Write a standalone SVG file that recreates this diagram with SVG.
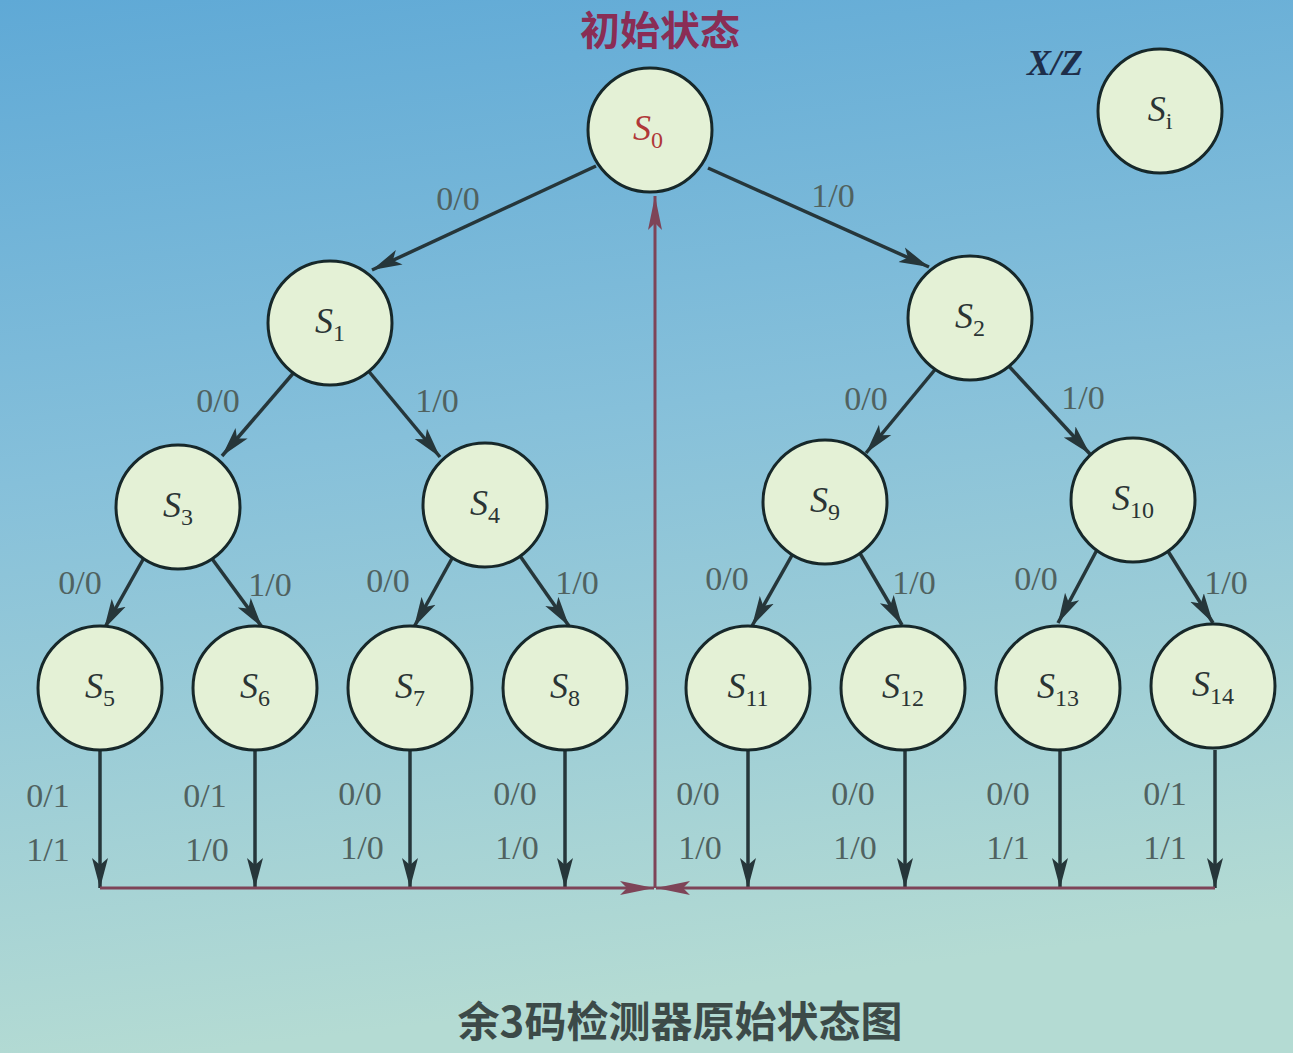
<svg xmlns="http://www.w3.org/2000/svg" width="1293" height="1053" viewBox="0 0 1293 1053">
<defs>
<linearGradient id="bg" x1="0" y1="0" x2="0.15" y2="1">
<stop offset="0" stop-color="#5fa9d6"/>
<stop offset="0.45" stop-color="#86c0da"/>
<stop offset="1" stop-color="#b4dbd3"/>
</linearGradient>
<marker id="ah" markerUnits="userSpaceOnUse" markerWidth="32" markerHeight="18" refX="30" refY="9" orient="auto">
<path d="M0,1 L30,9 L0,17 L7,9 Z" fill="#26363a"/>
</marker>
<marker id="ahr" markerUnits="userSpaceOnUse" markerWidth="36" markerHeight="16" refX="34" refY="8" orient="auto">
<path d="M0,1 L34,8 L0,15 L7,8 Z" fill="#7e4458"/>
</marker>
</defs>
<style>
.node circle{fill:#e4f1d6;stroke:#17282a;stroke-width:3}
.s{font-family:"Liberation Serif",serif;font-style:italic;font-size:36px;fill:#2a3434}
.sub{font-family:"Liberation Serif",serif;font-style:normal;font-size:24px}
.e{stroke:#26363a;stroke-width:3.5;fill:none;marker-end:url(#ah)}
.r{stroke:#7e4458;stroke-width:3;fill:none}
.lbl{font-family:"Liberation Serif",serif;font-size:34px;fill:#506260}
</style>
<rect width="1293" height="1053" fill="url(#bg)"/>
<text x="660" y="45" text-anchor="middle" font-family="'Noto Sans CJK SC',sans-serif" font-weight="bold" font-size="40" fill="#8a2d55">初始状态</text>
<text x="1055" y="75" text-anchor="middle" font-family="'Liberation Serif',serif" font-style="italic" font-weight="bold" font-size="36" fill="#1e2e4a">X/Z</text>
<g id="connectors">
<line class="e" x1="596" y1="166" x2="372" y2="270"/>
<line class="e" x1="708" y1="168" x2="929" y2="267"/>
<line class="e" x1="296" y1="370" x2="222" y2="456"/>
<line class="e" x1="366" y1="368" x2="440" y2="457"/>
<line class="e" x1="938" y1="366" x2="866" y2="453"/>
<line class="e" x1="1006" y1="363" x2="1090" y2="454"/>
<line class="e" x1="145" y1="556" x2="104" y2="629"/>
<line class="e" x1="210" y1="556" x2="262" y2="627"/>
<line class="e" x1="455" y1="553" x2="414" y2="627"/>
<line class="e" x1="518" y1="553" x2="569" y2="626"/>
<line class="e" x1="795" y1="550" x2="752" y2="626"/>
<line class="e" x1="858" y1="550" x2="902" y2="625"/>
<line class="e" x1="1098" y1="548" x2="1058" y2="623"/>
<line class="e" x1="1166" y1="548" x2="1213" y2="623"/>
<line class="e" x1="100" y1="750" x2="100" y2="888"/>
<line class="e" x1="255" y1="750" x2="255" y2="888"/>
<line class="e" x1="410" y1="750" x2="410" y2="888"/>
<line class="e" x1="565" y1="750" x2="565" y2="888"/>
<line class="e" x1="748" y1="750" x2="748" y2="888"/>
<line class="e" x1="905" y1="750" x2="905" y2="888"/>
<line class="e" x1="1060" y1="750" x2="1060" y2="888"/>
<line class="e" x1="1215" y1="750" x2="1215" y2="888"/>
<line class="r" x1="100" y1="888" x2="654" y2="888" marker-end="url(#ahr)"/>
<line class="r" x1="1215" y1="888" x2="656" y2="888" marker-end="url(#ahr)"/>
<line class="r" x1="655" y1="888" x2="655" y2="196" marker-end="url(#ahr)"/>
<text class="lbl" x="458" y="210" text-anchor="middle">0/0</text>
<text class="lbl" x="833" y="207" text-anchor="middle">1/0</text>
<text class="lbl" x="218" y="412" text-anchor="middle">0/0</text>
<text class="lbl" x="437" y="412" text-anchor="middle">1/0</text>
<text class="lbl" x="866" y="410" text-anchor="middle">0/0</text>
<text class="lbl" x="1083" y="409" text-anchor="middle">1/0</text>
<text class="lbl" x="80" y="594" text-anchor="middle">0/0</text>
<text class="lbl" x="270" y="596" text-anchor="middle">1/0</text>
<text class="lbl" x="388" y="592" text-anchor="middle">0/0</text>
<text class="lbl" x="577" y="594" text-anchor="middle">1/0</text>
<text class="lbl" x="727" y="590" text-anchor="middle">0/0</text>
<text class="lbl" x="914" y="594" text-anchor="middle">1/0</text>
<text class="lbl" x="1036" y="590" text-anchor="middle">0/0</text>
<text class="lbl" x="1226" y="594" text-anchor="middle">1/0</text>
<text class="lbl" x="48" y="807" text-anchor="middle">0/1</text>
<text class="lbl" x="48" y="861" text-anchor="middle">1/1</text>
<text class="lbl" x="205" y="807" text-anchor="middle">0/1</text>
<text class="lbl" x="207" y="861" text-anchor="middle">1/0</text>
<text class="lbl" x="360" y="805" text-anchor="middle">0/0</text>
<text class="lbl" x="362" y="859" text-anchor="middle">1/0</text>
<text class="lbl" x="515" y="805" text-anchor="middle">0/0</text>
<text class="lbl" x="517" y="859" text-anchor="middle">1/0</text>
<text class="lbl" x="698" y="805" text-anchor="middle">0/0</text>
<text class="lbl" x="700" y="859" text-anchor="middle">1/0</text>
<text class="lbl" x="853" y="805" text-anchor="middle">0/0</text>
<text class="lbl" x="855" y="859" text-anchor="middle">1/0</text>
<text class="lbl" x="1008" y="805" text-anchor="middle">0/0</text>
<text class="lbl" x="1008" y="859" text-anchor="middle">1/1</text>
<text class="lbl" x="1165" y="805" text-anchor="middle">0/1</text>
<text class="lbl" x="1165" y="859" text-anchor="middle">1/1</text>
</g>
<g id="S0" class="node"><circle cx="650" cy="130" r="62"/><text class="s" x="648" y="140" text-anchor="middle" style="fill:#b03838">S<tspan class="sub" dy="8">0</tspan></text></g>
<g id="Si" class="node"><circle cx="1160" cy="111" r="62"/><text class="s" x="1160" y="121" text-anchor="middle">S<tspan class="sub" dy="8">i</tspan></text></g>
<g id="S1" class="node"><circle cx="330" cy="323" r="62"/><text class="s" x="330" y="333" text-anchor="middle">S<tspan class="sub" dy="8">1</tspan></text></g>
<g id="S2" class="node"><circle cx="970" cy="318" r="62"/><text class="s" x="970" y="328" text-anchor="middle">S<tspan class="sub" dy="8">2</tspan></text></g>
<g id="S3" class="node"><circle cx="178" cy="507" r="62"/><text class="s" x="178" y="517" text-anchor="middle">S<tspan class="sub" dy="8">3</tspan></text></g>
<g id="S4" class="node"><circle cx="485" cy="505" r="62"/><text class="s" x="485" y="515" text-anchor="middle">S<tspan class="sub" dy="8">4</tspan></text></g>
<g id="S9" class="node"><circle cx="825" cy="502" r="62"/><text class="s" x="825" y="512" text-anchor="middle">S<tspan class="sub" dy="8">9</tspan></text></g>
<g id="S10" class="node"><circle cx="1133" cy="500" r="62"/><text class="s" x="1133" y="510" text-anchor="middle">S<tspan class="sub" dy="8">10</tspan></text></g>
<g id="S5" class="node"><circle cx="100" cy="688" r="62"/><text class="s" x="100" y="698" text-anchor="middle">S<tspan class="sub" dy="8">5</tspan></text></g>
<g id="S6" class="node"><circle cx="255" cy="688" r="62"/><text class="s" x="255" y="698" text-anchor="middle">S<tspan class="sub" dy="8">6</tspan></text></g>
<g id="S7" class="node"><circle cx="410" cy="688" r="62"/><text class="s" x="410" y="698" text-anchor="middle">S<tspan class="sub" dy="8">7</tspan></text></g>
<g id="S8" class="node"><circle cx="565" cy="688" r="62"/><text class="s" x="565" y="698" text-anchor="middle">S<tspan class="sub" dy="8">8</tspan></text></g>
<g id="S11" class="node"><circle cx="748" cy="688" r="62"/><text class="s" x="748" y="698" text-anchor="middle">S<tspan class="sub" dy="8">11</tspan></text></g>
<g id="S12" class="node"><circle cx="903" cy="688" r="62"/><text class="s" x="903" y="698" text-anchor="middle">S<tspan class="sub" dy="8">12</tspan></text></g>
<g id="S13" class="node"><circle cx="1058" cy="688" r="62"/><text class="s" x="1058" y="698" text-anchor="middle">S<tspan class="sub" dy="8">13</tspan></text></g>
<g id="S14" class="node"><circle cx="1213" cy="686" r="62"/><text class="s" x="1213" y="696" text-anchor="middle">S<tspan class="sub" dy="8">14</tspan></text></g>
<text x="680" y="1037" text-anchor="middle" font-family="'Noto Sans CJK SC',sans-serif" font-weight="bold" font-size="42" fill="#3c4a48">余3码检测器原始状态图</text>
</svg>
